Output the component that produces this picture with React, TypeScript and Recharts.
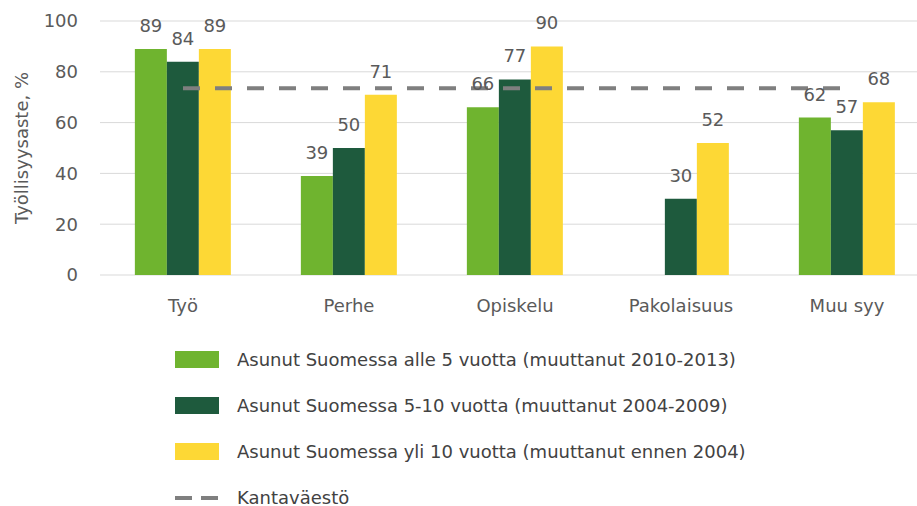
import { ComposedChart, Bar, Line, XAxis, YAxis, CartesianGrid, LabelList } from "recharts";

const categories = ["Työ", "Perhe", "Opiskelu", "Pakolaisuus", "Muu syy"];
const alle5 = [89, 39, 66, null, 62];
const vuotta5to10 = [84, 50, 77, 30, 57];
const yli10 = [89, 71, 90, 52, 68];
const kantavaesto = [73.5, 73.5, 73.5, 73.5, 73.5];
const yTicks = [0, 20, 40, 60, 80, 100];

const SERIES = [
  { key: "alle5", name: "Asunut Suomessa alle 5 vuotta (muuttanut 2010-2013)", color: "#6fb42f" },
  { key: "v5to10", name: "Asunut Suomessa 5-10 vuotta (muuttanut 2004-2009)", color: "#1e5a3d" },
  { key: "yli10", name: "Asunut Suomessa yli 10 vuotta (muuttanut ennen 2004)", color: "#fdd835" },
];

const FONT = "'DejaVu Sans', sans-serif";
const TEXT = "#5a5a5a";

const data = categories.map((name, i) => ({
  name,
  alle5: alle5[i],
  v5to10: vuotta5to10[i],
  yli10: yli10[i],
  kanta: kantavaesto[i],
}));

export default function App() {
  return (
    <div style={{ position: "absolute", left: 0, top: 0, width: 917, height: 506, overflow: "hidden", background: "#fff", fontFamily: FONT }}>
      <ComposedChart
        width={940}
        height={320}
        data={data}
        margin={{ top: 21, right: 10, bottom: 0, left: 0 }}
        barCategoryGap="21%"
        barGap={0}
      >
        <CartesianGrid horizontal vertical={false} stroke="#d9d9d9" />
        <XAxis
          dataKey="name"
          axisLine={false}
          tickLine={false}
          height={45}
          tickMargin={18}
          tick={{ fill: TEXT, fontSize: 18, fontFamily: FONT }}
        />
        <YAxis
          domain={[0, 100]}
          ticks={yTicks}
          width={100}
          axisLine={false}
          tickLine={false}
          tickMargin={16}
          tick={{ fill: TEXT, fontSize: 18, fontFamily: FONT }}
          label={{ value: "Työllisyysaste, %", angle: -90, position: "center", dx: -28, fill: TEXT, fontSize: 18, fontFamily: FONT }}
        />
        {SERIES.map((s) => (
          <Bar key={s.key} dataKey={s.key} fill={s.color} isAnimationActive={false}>
            <LabelList dataKey={s.key} position="top" offset={17} fill={TEXT} fontSize={18} fontFamily={FONT} />
          </Bar>
        ))}
        <Line
          dataKey="kanta"
          stroke="#7f7f7f"
          strokeWidth={4}
          strokeDasharray="17 15"
          dot={false}
          activeDot={false}
          isAnimationActive={false}
        />
      </ComposedChart>
      <div style={{ position: "absolute", left: 175, top: 336, fontSize: 18, color: "#424242" }}>
        {SERIES.map((s) => (
          <div key={s.key} style={{ display: "flex", alignItems: "center", height: 46 }}>
            <span style={{ display: "inline-block", width: 44, height: 17, background: s.color, marginRight: 18 }} />
            <span>{s.name}</span>
          </div>
        ))}
        <div style={{ display: "flex", alignItems: "center", height: 46 }}>
          <svg width={44} height={17} style={{ marginRight: 18 }}>
            <line x1={0} y1={9} x2={44} y2={9} stroke="#7f7f7f" strokeWidth={4} strokeDasharray="17 9" />
          </svg>
          <span>Kantaväestö</span>
        </div>
      </div>
    </div>
  );
}
